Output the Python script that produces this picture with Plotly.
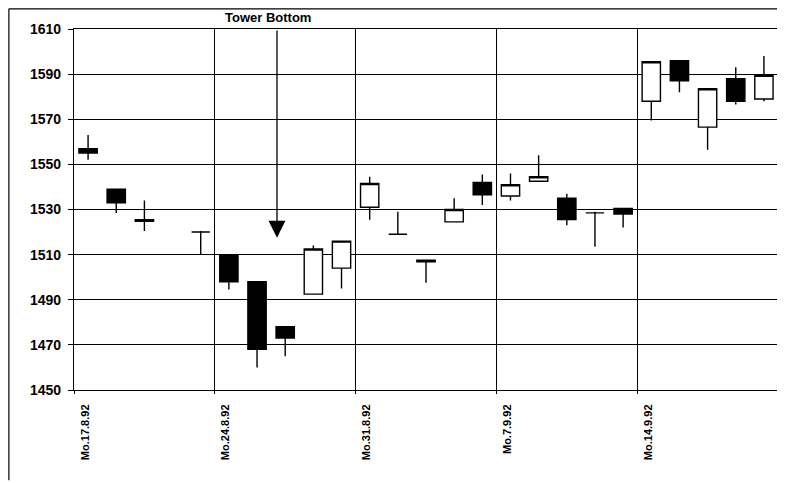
"""Tower Bottom candlestick chart, Aug/Sep 1992 (daily OHLC)."""
import pandas as pd
import plotly.graph_objects as go

# trading days (20.8.92 has no candle)
dates = [
    "1992-08-17", "1992-08-18", "1992-08-19", "1992-08-21",
    "1992-08-24", "1992-08-25", "1992-08-26", "1992-08-27", "1992-08-28",
    "1992-08-31", "1992-09-01", "1992-09-02", "1992-09-03", "1992-09-04",
    "1992-09-07", "1992-09-08", "1992-09-09", "1992-09-10", "1992-09-11",
    "1992-09-14", "1992-09-15", "1992-09-16", "1992-09-17", "1992-09-18",
]
opens = [1557, 1539, 1525.5, 1520,
         1510, 1498, 1478, 1492.5, 1504,
         1531, 1519, 1507.5, 1524.5, 1542,
         1536, 1542.5, 1535, 1528.5, 1530.5,
         1578, 1596, 1566.5, 1588, 1579]
highs = [1563, 1539, 1534, 1520.5,
         1510, 1498, 1478, 1514, 1516,
         1544.5, 1529, 1507.5, 1535, 1545.5,
         1546, 1554, 1537, 1529, 1530.5,
         1595.5, 1596, 1583.5, 1593, 1598]
lows = [1552, 1528.5, 1520.5, 1510,
        1494.5, 1460, 1465, 1492.5, 1495,
        1525.5, 1519, 1497.5, 1524.5, 1532,
        1534, 1542.5, 1523, 1513.5, 1522,
        1569.5, 1582, 1556.5, 1576.5, 1578]
closes = [1555, 1533, 1524.8, 1520,
          1498, 1468, 1473, 1512.5, 1516,
          1541.5, 1519, 1506.8, 1530, 1536.5,
          1541, 1544.5, 1525.5, 1528.5, 1528,
          1595.5, 1587, 1583.5, 1578, 1589.5]

week_starts = ["1992-08-17", "1992-08-24", "1992-08-31", "1992-09-07", "1992-09-14"]
week_labels = ["Mo.17.8.92", "Mo.24.8.92", "Mo.31.8.92", "Mo.7.9.92", "Mo.14.9.92"]

title_text = "Tower Bottom"
arrow_date = "1992-08-26 05:00"
arrow_tip = 1517.5

# centre each candle in its day slot
x = pd.to_datetime(dates) + pd.Timedelta(hours=12)

fig = go.Figure(
    go.Candlestick(
        x=x, open=opens, high=highs, low=lows, close=closes,
        increasing=dict(line=dict(color="black", width=1.4), fillcolor="white"),
        decreasing=dict(line=dict(color="black", width=1.4), fillcolor="black"),
        hoverinfo="x+y",
    )
)

# the page body adds 8px on the left/top, so the figure is 8px smaller
fig.update_layout(
    width=777,
    height=475,
    margin=dict(l=66, r=7, t=21, b=93),
    paper_bgcolor="white",
    plot_bgcolor="white",
    showlegend=False,
    boxgap=0.35,
    boxgroupgap=0,
    xaxis=dict(
        type="date",
        range=["1992-08-17", "1992-09-19"],
        rangebreaks=[dict(bounds=["sat", "mon"])],
        rangeslider=dict(visible=False),
        tickvals=week_starts,
        ticktext=week_labels,
        tickangle=-90,
        ticklabelshift=11,
        ticklabelstandoff=6,
        tickfont=dict(family="Liberation Sans", size=11, color="black", weight="bold"),
        ticks="outside",
        ticklen=3,
        tickcolor="black",
        showgrid=True,
        gridcolor="black",
        gridwidth=1.2,
        showline=True,
        linecolor="black",
        linewidth=1.2,
        mirror=True,
        zeroline=False,
        automargin=False,
    ),
    yaxis=dict(
        range=[1450, 1610],
        tickmode="linear",
        tick0=1450,
        dtick=20,
        tickfont=dict(family="Liberation Sans", size=14, color="black", weight="bold"),
        ticks="outside",
        ticklen=5,
        ticklabelstandoff=4,
        tickcolor="black",
        showgrid=True,
        gridcolor="black",
        gridwidth=1.2,
        showline=True,
        linecolor="black",
        linewidth=1.2,
        mirror=True,
        zeroline=False,
        automargin=False,
    ),
)

fig.add_annotation(
    x=0.2756, y=1.0, xref="paper", yref="paper",
    xanchor="center", yanchor="bottom", yshift=2,
    text=title_text, showarrow=False,
    font=dict(family="Liberation Sans", size=13, color="black", weight="bold"),
)

fig.add_annotation(
    x=arrow_date, y=arrow_tip, xref="x", yref="y",
    ax=arrow_date, ay=1610, axref="x", ayref="y",
    text="", showarrow=True,
    arrowhead=2, arrowsize=2.6, arrowwidth=1.3, arrowcolor="black",
)

# chart-area frame (top and left edges only are visible)
fig.add_shape(type="line", xref="paper", yref="paper",
              x0=-0.0925, x1=1.01, y0=1.056, y1=1.056,
              line=dict(color="black", width=1.2))
fig.add_shape(type="line", xref="paper", yref="paper",
              x0=-0.0925, x1=-0.0925, y0=1.056, y1=-0.25,
              line=dict(color="black", width=1.2))

fig.write_html("out.html")
